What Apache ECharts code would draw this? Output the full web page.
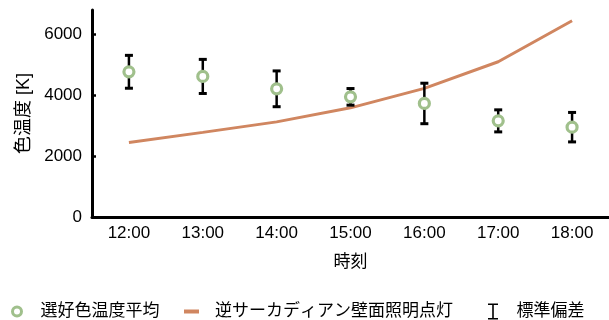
<!DOCTYPE html>
<html>
<head>
<meta charset="utf-8">
<script src="https://cdn.jsdelivr.net/npm/echarts@6/dist/echarts.min.js"></script>
<style>
  html, body { margin: 0; padding: 0; background: #fff; }
  #chart { width: 609px; height: 320px; }
</style>
</head>
<body>
<div id="chart"></div>
<script>
// Time of day on the category axis
const hours = ['12:00', '13:00', '14:00', '15:00', '16:00', '17:00', '18:00'];
// Mean preferred colour temperature [K] and its standard deviation
const preferredMean = [4770, 4618, 4211, 3947, 3730, 3158, 2951];
const preferredSD = [540, 560, 588, 273, 665, 362, 484];
// Colour temperature of the reverse-circadian wall lighting [K]
const wallLighting = [2450, 2780, 3125, 3586, 4224, 5099, 6447];
// Y-axis tick labels
const yTicks = [0, 2000, 4000, 6000];

const FONT = '"Liberation Sans", Arial, "Noto Sans CJK JP", sans-serif';
const GREEN = '#a0c08c';
const ORANGE = '#d08660';

const errorData = hours.map((h, i) => [i, preferredMean[i] - preferredSD[i], preferredMean[i] + preferredSD[i]]);

const chart = echarts.init(document.getElementById('chart'), null, { renderer: 'canvas' });

const legendText = (pad) => ({ color: '#000', fontSize: 17, fontFamily: FONT, padding: [0, 0, 0, pad] });

chart.setOption({
  animation: false,
  textStyle: { fontFamily: FONT },
  grid: { left: 92, right: -3, top: 10, bottom: 103, containLabel: false },
  xAxis: {
    type: 'category',
    data: hours,
    boundaryGap: true,
    name: '時刻',
    nameLocation: 'middle',
    nameGap: 37,
    nameTextStyle: { color: '#000', fontSize: 17, fontFamily: FONT },
    axisLine: { lineStyle: { color: '#000', width: 3 } },
    axisTick: { inside: true, alignWithLabel: true, length: 4, lineStyle: { color: '#000', width: 2.5 } },
    axisLabel: { color: '#000', fontSize: 17, margin: 8, fontFamily: FONT },
    splitLine: { show: false }
  },
  yAxis: {
    type: 'value',
    min: 0,
    max: 6800,
    interval: 2000,
    name: '色温度 [K]',
    nameLocation: 'middle',
    nameGap: 58,
    nameTextStyle: { color: '#000', fontSize: 18, fontFamily: FONT },
    axisLine: { show: true, lineStyle: { color: '#000', width: 3 } },
    axisTick: { show: true, inside: true, length: 4, customValues: yTicks, lineStyle: { color: '#000', width: 2.5 } },
    axisLabel: {
      color: '#000', fontSize: 17, margin: 10, fontFamily: FONT, customValues: yTicks,
      formatter: (v) => String(v)
    },
    splitLine: { show: false }
  },
  legend: [
    {
      left: 11, top: 303, padding: 0, itemWidth: 9, itemHeight: 9,
      data: [{ name: '選好色温度平均', icon: 'circle', itemStyle: { color: '#fff', borderColor: GREEN, borderWidth: 3 } }],
      textStyle: legendText(14), selectedMode: false
    },
    {
      left: 184, top: 303, padding: 0, itemWidth: 15, itemHeight: 4,
      data: [{ name: '逆サーカディアン壁面照明点灯', icon: 'rect', itemStyle: { color: ORANGE } }],
      textStyle: legendText(11), selectedMode: false
    },
    {
      left: 488, top: 303, padding: 0, itemWidth: 10, itemHeight: 16,
      data: [{ name: '標準偏差', icon: 'path://M0,0H10V1.6H5.8V14.4H10V16H0V14.4H4.2V1.6H0Z', itemStyle: { color: '#000' } }],
      textStyle: legendText(13.5), selectedMode: false
    }
  ],
  series: [
    {
      name: '逆サーカディアン壁面照明点灯',
      type: 'line',
      data: wallLighting,
      showSymbol: false,
      lineStyle: { color: ORANGE, width: 3 },
      itemStyle: { color: ORANGE },
      z: 2
    },
    {
      name: '標準偏差',
      type: 'custom',
      data: errorData,
      itemStyle: { color: '#000' },
      z: 3,
      renderItem: function (params, api) {
        const x = api.value(0);
        const lo = api.coord([x, api.value(1)]);
        const hi = api.coord([x, api.value(2)]);
        const half = 4;
        const style = { stroke: '#000', lineWidth: 2.5 };
        return {
          type: 'group',
          children: [
            { type: 'line', shape: { x1: hi[0], y1: hi[1], x2: lo[0], y2: lo[1] }, style: style },
            { type: 'line', shape: { x1: hi[0] - half, y1: hi[1], x2: hi[0] + half, y2: hi[1] }, style: { stroke: '#000', lineWidth: 3 } },
            { type: 'line', shape: { x1: lo[0] - half, y1: lo[1], x2: lo[0] + half, y2: lo[1] }, style: { stroke: '#000', lineWidth: 3 } }
          ]
        };
      }
    },
    {
      name: '選好色温度平均',
      type: 'scatter',
      data: preferredMean,
      symbol: 'circle',
      symbolSize: 10,
      itemStyle: { color: '#fff', borderColor: GREEN, borderWidth: 3.2, opacity: 1 },
      z: 4
    }
  ]
});
</script>
</body>
</html>
